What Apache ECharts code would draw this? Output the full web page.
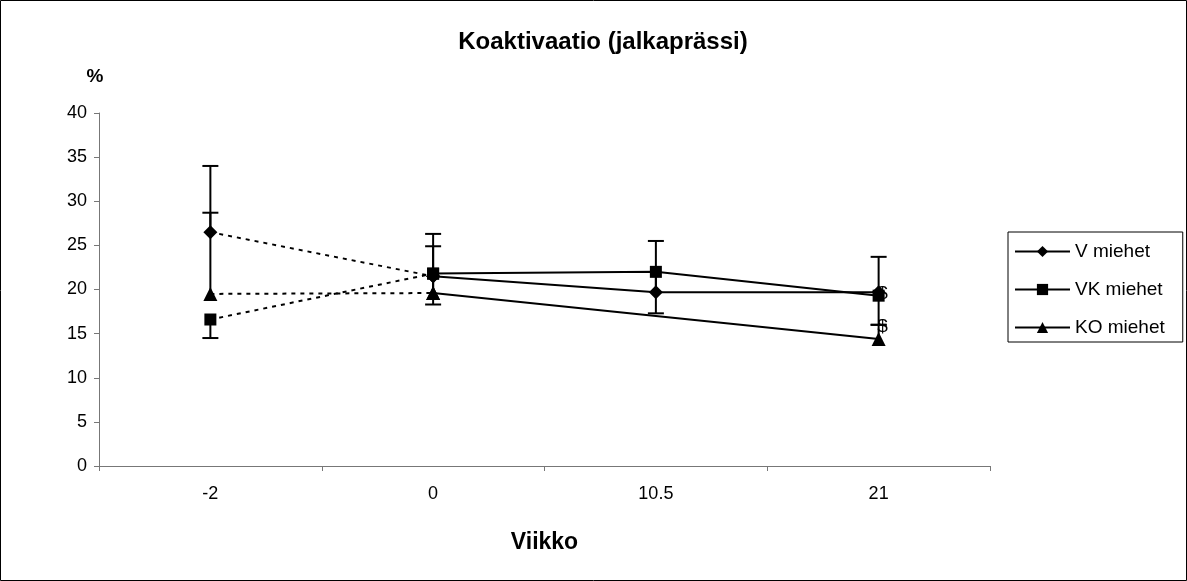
<!DOCTYPE html>
<html>
<head>
<meta charset="utf-8">
<script src="https://cdn.jsdelivr.net/npm/echarts@6/dist/echarts.min.js"></script>
<style>
  html, body { margin: 0; padding: 0; background: #fff; }
  #chart { width: 1187px; height: 581px; }
</style>
</head>
<body>
<div id="chart"></div>
<script>
// Measurement weeks
const categories = ['-2', '0', '10.5', '21'];
const yTicks = [0, 5, 10, 15, 20, 25, 30, 35, 40];

// Coactivation (%) per group
const vMiehet  = [26.5, 21.5, 19.7, 19.7];
const vkMiehet = [16.6, 21.8, 22.0, 19.3];
const koMiehet = [19.5, 19.6, null, 14.4];

// One-sided error bars (SD): V and KO upward, VK downward
const vErrUp    = [7.5, 3.4, 5.8, 4.0];
const vkErrDown = [2.1, 3.5, 4.7, 3.3];
const koErrUp   = [9.2, 6.7, null, 1.6];

// Significance marks at week 21
const vkMarks = ['', '', '', '$'];
const koMarks = ['', '', '', '$'];

const FONT = '"Liberation Sans", Arial, sans-serif';

// first segment (-2 -> 0) is dotted, the rest solid
function firstSegment(arr) { return arr.map((v, i) => (i < 2 ? v : null)); }
function restSegments(arr, marks) {
  return arr.map((v, i) => {
    if (i < 1) return null;
    if (marks && marks[i]) {
      return { value: v, label: { show: true, formatter: marks[i] } };
    }
    return v;
  });
}

function errorData(values, errs, dir) {
  const out = [];
  values.forEach((v, i) => {
    if (v == null || errs[i] == null) return;
    out.push([i, v, v + dir * errs[i]]);
  });
  return out;
}

function errorRender(params, api) {
  const x = api.value(0);
  const p0 = api.coord([x, api.value(1)]);
  const p1 = api.coord([x, api.value(2)]);
  const half = 8;
  const style = { stroke: '#000', lineWidth: 2, fill: null };
  return {
    type: 'group',
    children: [
      { type: 'line', shape: { x1: p0[0], y1: p0[1], x2: p1[0], y2: p1[1] }, style },
      { type: 'line', shape: { x1: p1[0] - half, y1: p1[1], x2: p1[0] + half, y2: p1[1] }, style }
    ]
  };
}

const groups = [
  { name: 'V miehet',  data: vMiehet,  symbol: 'diamond',  size: 14, marks: null,
    err: errorData(vMiehet, vErrUp, 1), labelOffset: [0, 0] },
  { name: 'VK miehet', data: vkMiehet, symbol: 'rect',     size: 12, marks: vkMarks,
    err: errorData(vkMiehet, vkErrDown, -1), labelOffset: [4, -2] },
  { name: 'KO miehet', data: koMiehet, symbol: 'triangle', size: 14, marks: koMarks,
    err: errorData(koMiehet, koErrUp, 1), labelOffset: [4, -12] }
];

const series = [];
groups.forEach(g => {
  series.push({
    name: g.name, type: 'line', data: restSegments(g.data, g.marks),
    connectNulls: true, symbol: g.symbol, symbolSize: g.size,
    lineStyle: { color: '#000', width: 2 },
    itemStyle: { color: '#000' },
    label: { show: false, position: 'inside', offset: g.labelOffset,
             color: '#000', fontFamily: FONT, fontSize: 19 },
    z: 4
  });
});
groups.forEach(g => {
  series.push({
    name: g.name, type: 'line', data: firstSegment(g.data),
    symbol: g.symbol, symbolSize: g.size,
    lineStyle: { color: '#000', width: 2, type: [4, 5] },
    itemStyle: { color: '#000' },
    z: 3
  });
  series.push({
    name: g.name + ' SD', type: 'custom', data: g.err,
    renderItem: errorRender, z: 2, silent: true
  });
});

const chart = echarts.init(document.getElementById('chart'), null, { renderer: 'canvas' });
chart.setOption({
  animation: false,
  backgroundColor: '#fff',
  title: {
    text: 'Koaktivaatio (jalkaprässi)', left: 598, top: 25, textAlign: 'center',
    textStyle: { fontFamily: FONT, fontSize: 24, fontWeight: 'bold', color: '#000' }
  },
  grid: { left: 99, right: 197, top: 113, bottom: 115 },
  legend: {
    data: groups.map(g => g.name),
    orient: 'vertical', left: 1008, top: 232,
    padding: [10, 18, 5, 6], itemGap: 19, itemWidth: 55, itemHeight: 14,
    borderColor: '#000', borderWidth: 1,
    textStyle: { fontFamily: FONT, fontSize: 19, color: '#000' }
  },
  xAxis: {
    type: 'category', data: categories, boundaryGap: true,
    name: 'Viikko', nameLocation: 'middle', nameGap: 65,
    nameTextStyle: { fontFamily: FONT, fontSize: 23, fontWeight: 'bold', color: '#000' },
    axisLine: { lineStyle: { color: '#777', width: 1 } },
    axisTick: { show: true, length: 5, inside: false, lineStyle: { color: '#777' } },
    axisLabel: { fontFamily: FONT, fontSize: 18, color: '#000', margin: 19 }
  },
  yAxis: {
    type: 'value', min: yTicks[0], max: yTicks[yTicks.length - 1], interval: yTicks[1] - yTicks[0],
    name: '%', nameLocation: 'end', nameGap: 27,
    nameTextStyle: { fontFamily: FONT, fontSize: 19, fontWeight: 'bold', color: '#000', align: 'center', padding: [0, 8, 0, 0] },
    axisLine: { show: true, lineStyle: { color: '#777', width: 1 } },
    axisTick: { show: true, length: 5, lineStyle: { color: '#777' } },
    splitLine: { show: false },
    axisLabel: { fontFamily: FONT, fontSize: 18, color: '#000', margin: 12 }
  },
  graphic: [{
    type: 'rect', shape: { x: 0.5, y: 0.5, width: 1186, height: 580 },
    style: { fill: null, stroke: '#000', lineWidth: 1 }, silent: true
  }],
  series
});
</script>
</body>
</html>
